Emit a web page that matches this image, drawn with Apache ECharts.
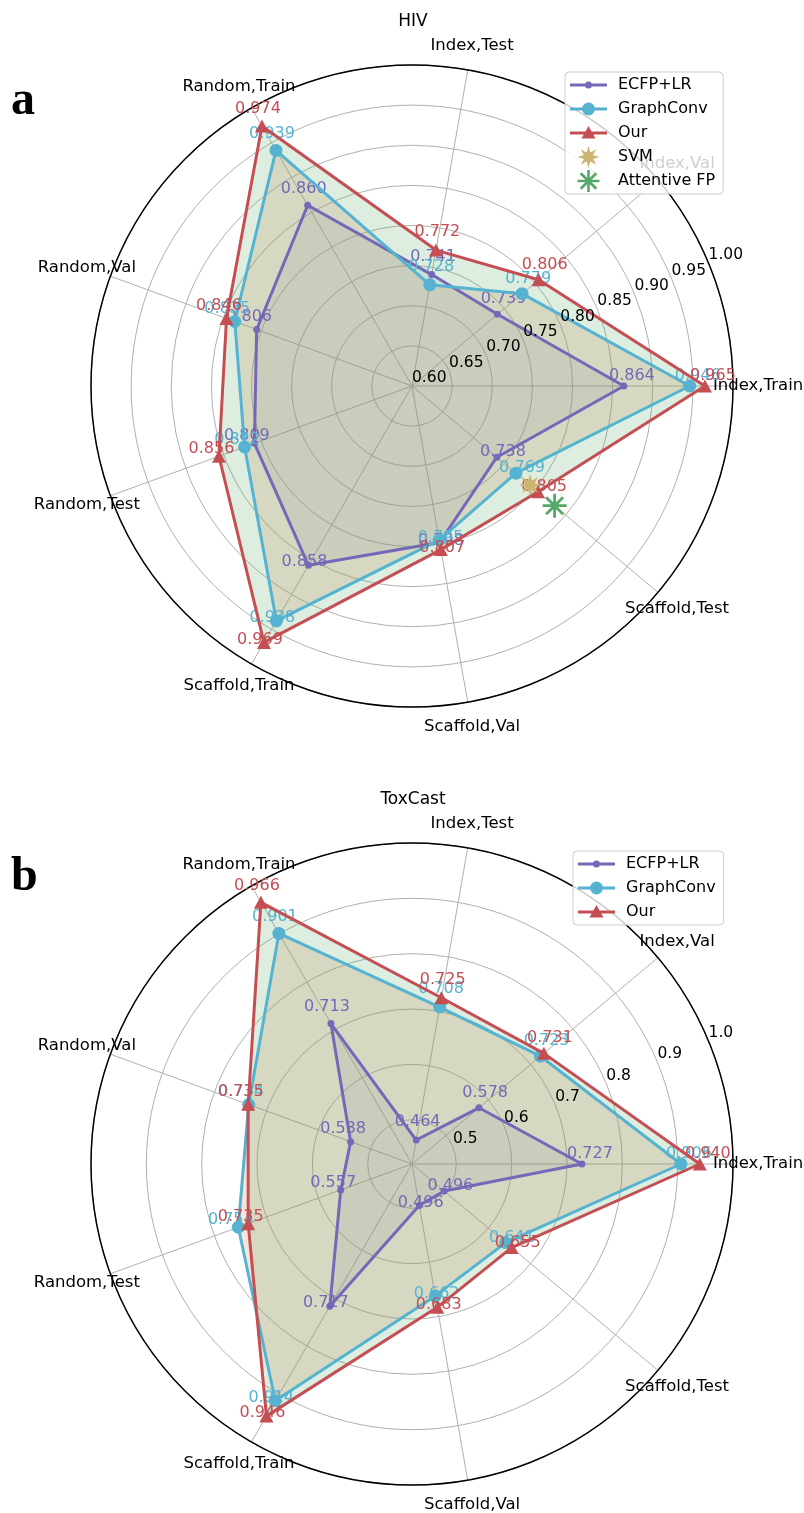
<!DOCTYPE html>
<html>
<head>
<meta charset="utf-8">
<script src="https://cdn.jsdelivr.net/npm/echarts@6/dist/echarts.min.js"></script>
<style>
  html, body { margin: 0; padding: 0; background: #ffffff; }
  #chart { width: 804px; height: 1513px; }
</style>
</head>
<body>
<div id="chart"></div>
<script>
// Radar axes (counter-clockwise from 3 o'clock)
const categories = ['Index,Train', 'Index,Val', 'Index,Test', 'Random,Train', 'Random,Val',
  'Random,Test', 'Scaffold,Train', 'Scaffold,Val', 'Scaffold,Test'];

// HIV scores
const hivEcfp      = [0.864, 0.739, 0.741, 0.860, 0.806, 0.809, 0.858, 0.798, 0.738];
const hivGraphConv = [0.946, 0.779, 0.728, 0.939, 0.835, 0.822, 0.938, 0.795, 0.769];
const hivOur       = [0.965, 0.806, 0.772, 0.974, 0.846, 0.856, 0.969, 0.807, 0.805];
const hivSvmScaffoldTest = 0.792;
const hivAttentiveScaffoldTest = 0.832;
const hivTicks = [0.60, 0.65, 0.70, 0.75, 0.80, 0.85, 0.90, 0.95, 1.00];
const hivRange = [0.60, 1.00];

// ToxCast scores
const toxEcfp      = [0.727, 0.578, 0.464, 0.713, 0.538, 0.557, 0.717, 0.496, 0.496];
const toxGraphConv = [0.906, 0.723, 0.708, 0.901, 0.734, 0.754, 0.914, 0.662, 0.641];
const toxOur       = [0.940, 0.731, 0.725, 0.966, 0.735, 0.735, 0.946, 0.683, 0.655];
const toxTicks = [0.5, 0.6, 0.7, 0.8, 0.9, 1.0];
const toxRange = [0.42, 1.00];

const FONT = '"DejaVu Sans", sans-serif';
const STEP = 360 / categories.length;
const LINE_COLORS = { ecfp: '#7468b8', gc: '#55b3d1', our: '#c44e52', svm: '#cdb46f', afp: '#55a868' };
const FILL_COLORS = { ecfp: '#4c72b0', gc: '#dd8452', our: '#55a868' };
const FILL_ALPHA = { ecfp: 0.12, gc: 0.22, our: 0.2 };
const LABEL_PUSH = 8;          // px, value labels pushed outward along the spoke
const LABEL_LIFT = 2;          // px, extra lift above the marker
const CAT_LABEL_RATIO = 1.078; // category labels sit just outside the rim

// ---- marker shapes (drawn in a 22x22 box) ----
function starPath(points, rOut, rIn) {
  let d = '';
  for (let i = 0; i < points * 2; i++) {
    const r = i % 2 === 0 ? rOut : rIn;
    const a = Math.PI / 2 + i * Math.PI / points;
    d += (i === 0 ? 'M' : 'L') + (11 + r * Math.cos(a)).toFixed(2) + ',' + (11 - r * Math.sin(a)).toFixed(2);
  }
  return d + 'Z';
}
function asteriskPath(arms, len, w) {
  let d = '';
  for (let k = 0; k < arms; k++) {
    const a = k * Math.PI / arms;
    const c = Math.cos(a), s = Math.sin(a);
    const pts = [[-len, -w], [len, -w], [len, w], [-len, w]].map(p =>
      (11 + p[0] * c - p[1] * s).toFixed(2) + ',' + (11 + p[0] * s + p[1] * c).toFixed(2));
    d += 'M' + pts.join('L') + 'Z';
  }
  return d;
}
const STAR8_D = starPath(8, 11, 5);
const ASTER_D = asteriskPath(4, 11, 1.3);

// Legend icons live in a 37x24 box; tiny corner specks pin the box size
const BOX = 'M0,0h0.01v0.01h-0.01zM36.99,23.99h0.01v0.01h-0.01z';
function lineCircleIcon(r) {
  return 'path://' + BOX + 'M0,10.5h37v3h-37z' +
    'M' + (18.5 - r) + ',12a' + r + ',' + r + ' 0 1,1 ' + (2 * r) + ',0' +
    'a' + r + ',' + r + ' 0 1,1 ' + (-2 * r) + ',0z';
}
const ICON_TRI = 'path://' + BOX + 'M0,10.5h37v3h-37zM18.5,5L25.5,17.5L11.5,17.5Z';
function shiftPath(d, dx, dy) {
  return d.replace(/(-?\d+\.?\d*),(-?\d+\.?\d*)/g, (m, x, y) =>
    (parseFloat(x) + dx).toFixed(2) + ',' + (parseFloat(y) + dy).toFixed(2));
}
const ICON_STAR = 'path://' + BOX + shiftPath(STAR8_D, 7.5, 1);
const ICON_ASTER = 'path://' + BOX + shiftPath(ASTER_D, 7.5, 1);

// ---- builders ----
function labelledPoints(values) {
  const items = values.map((v, i) => {
    const a = i * STEP * Math.PI / 180;
    return { value: [v, i * STEP], label: { offset: [LABEL_PUSH * Math.cos(a), -LABEL_PUSH * Math.sin(a) - LABEL_LIFT] } };
  });
  items.push({ value: [values[0], 360], symbol: 'none', label: { show: false } });
  return items;
}
function closedPoints(values) {
  const pts = values.map((v, i) => [v, i * STEP]);
  pts.push([values[0], 360]);
  return pts;
}
function areaSeries(k, values, key) {
  return {
    type: 'line', coordinateSystem: 'polar', polarIndex: k, data: closedPoints(values),
    symbol: 'none', lineStyle: { width: 0 },
    areaStyle: { color: FILL_COLORS[key], opacity: FILL_ALPHA[key] },
    silent: true, z: 1
  };
}
function lineSeries(k, name, values, color, symbol, size, z) {
  return {
    type: 'line', name: name, coordinateSystem: 'polar', polarIndex: k,
    data: labelledPoints(values), symbol: symbol, symbolSize: size,
    lineStyle: { color: color, width: 3 }, itemStyle: { color: color, borderWidth: 0 },
    label: {
      show: true, position: 'inside', align: 'center', verticalAlign: 'bottom',
      color: color, fontSize: 16, fontFamily: FONT,
      formatter: p => p.value[0].toFixed(3)
    },
    z: z
  };
}
function frameSeries(k, range, ticks, decimals) {
  const labelR = range[0] + (range[1] - range[0]) * CAT_LABEL_RATIO;
  return [
    {
      type: 'scatter', coordinateSystem: 'polar', polarIndex: k, clip: false, silent: true,
      symbolSize: 0, itemStyle: { opacity: 1 },
      data: categories.map((c, i) => [labelR, i * STEP]),
      label: { show: true, position: 'inside', align: 'center', verticalAlign: 'middle', opacity: 1,
        color: '#000000', fontSize: 16.5, fontFamily: FONT, formatter: p => categories[p.dataIndex] },
      z: 2
    },
    {
      type: 'scatter', coordinateSystem: 'polar', polarIndex: k, clip: false, silent: true,
      symbolSize: 0, itemStyle: { opacity: 1 },
      data: ticks.map(v => [v, 22.5]),
      label: { show: true, position: 'inside', align: 'left', verticalAlign: 'bottom', opacity: 1,
        color: '#000000', fontSize: 15.5, fontFamily: FONT, formatter: p => p.value[0].toFixed(decimals) },
      z: 6
    }
  ];
}
function axes(k, range, ticks) {
  return {
    angle: {
      polarIndex: k, type: 'value', min: 0, max: 360, interval: STEP,
      startAngle: 0, clockwise: false,
      axisLine: { show: true, lineStyle: { color: '#000', width: 1.5 } },
      axisTick: { show: false }, axisLabel: { show: false },
      splitLine: { show: true, lineStyle: { color: '#b0b0b0', width: 1 } }
    },
    radius: {
      polarIndex: k, type: 'value', min: range[0], max: range[1],
      axisLine: { show: false },
      axisTick: { show: false, customValues: ticks },
      axisLabel: { show: false, customValues: ticks },
      splitLine: { show: true, lineStyle: { color: '#b0b0b0', width: 1 } }
    }
  };
}

const a0 = axes(0, hivRange, hivTicks);
const a1 = axes(1, toxRange, toxTicks);

const series = [
  // HIV
  areaSeries(0, hivEcfp, 'ecfp'),
  areaSeries(0, hivGraphConv, 'gc'),
  areaSeries(0, hivOur, 'our'),
  ...frameSeries(0, hivRange, hivTicks, 2),
  lineSeries(0, 'ECFP+LR', hivEcfp, LINE_COLORS.ecfp, 'circle', 7, 3),
  lineSeries(0, 'GraphConv', hivGraphConv, LINE_COLORS.gc, 'circle', 13, 4),
  lineSeries(0, 'Our', hivOur, LINE_COLORS.our, 'triangle', [14, 13], 5),
  {
    type: 'scatter', name: 'SVM', coordinateSystem: 'polar', polarIndex: 0,
    data: [[hivSvmScaffoldTest, 8 * STEP]], symbol: 'path://' + STAR8_D, symbolSize: 22,
    itemStyle: { color: LINE_COLORS.svm, opacity: 1 }, z: 6
  },
  {
    type: 'scatter', name: 'Attentive FP', coordinateSystem: 'polar', polarIndex: 0,
    data: [[hivAttentiveScaffoldTest, 8 * STEP]], symbol: 'path://' + ASTER_D, symbolSize: 24,
    itemStyle: { color: LINE_COLORS.afp, opacity: 1 }, z: 6
  },
  // ToxCast
  areaSeries(1, toxEcfp, 'ecfp'),
  areaSeries(1, toxGraphConv, 'gc'),
  areaSeries(1, toxOur, 'our'),
  ...frameSeries(1, toxRange, toxTicks, 1),
  lineSeries(1, 'ECFP+LR', toxEcfp, LINE_COLORS.ecfp, 'circle', 7, 3),
  lineSeries(1, 'GraphConv', toxGraphConv, LINE_COLORS.gc, 'circle', 13, 4),
  lineSeries(1, 'Our', toxOur, LINE_COLORS.our, 'triangle', [14, 13], 5)
];

const legendBase = {
  orient: 'vertical', itemWidth: 37, itemHeight: 24, itemGap: 0,
  backgroundColor: 'rgba(255,255,255,0.8)', borderColor: '#cccccc', borderWidth: 1, borderRadius: 4,
  selectedMode: false, padding: [1, 8, 1, 5],
  textStyle: { fontSize: 16, fontFamily: FONT, color: '#000', padding: [0, 0, 0, 6] }
};
const lineLegendItems = [
  { name: 'ECFP+LR', icon: lineCircleIcon(3.5) },
  { name: 'GraphConv', icon: lineCircleIcon(6.5) },
  { name: 'Our', icon: ICON_TRI }
];

const option = {
  animation: false,
  backgroundColor: '#ffffff',
  polar: [
    { center: [412, 386], radius: 321 },
    { center: [412, 1164], radius: 321 }
  ],
  angleAxis: [a0.angle, a1.angle],
  radiusAxis: [a0.radius, a1.radius],
  legend: [
    Object.assign({}, legendBase, {
      left: 565, top: 72,
      data: lineLegendItems.concat([{ name: 'SVM', icon: ICON_STAR }, { name: 'Attentive FP', icon: ICON_ASTER }])
    }),
    Object.assign({}, legendBase, {
      left: 573, top: 851,
      data: lineLegendItems
    })
  ],
  graphic: [
    { type: 'text', x: 413, y: 22, style: { text: 'HIV', font: '17px "DejaVu Sans"', fill: '#000', align: 'center', verticalAlign: 'middle' } },
    { type: 'text', x: 413, y: 800, style: { text: 'ToxCast', font: '17px "DejaVu Sans"', fill: '#000', align: 'center', verticalAlign: 'middle' } },
    { type: 'text', x: 11, y: 102, style: { text: 'a', font: 'bold 48px "Liberation Serif"', fill: '#000', align: 'left', verticalAlign: 'middle' } },
    { type: 'text', x: 11, y: 878, style: { text: 'b', font: 'bold 48px "Liberation Serif"', fill: '#000', align: 'left', verticalAlign: 'middle' } }
  ],
  series: series
};

const chart = echarts.init(document.getElementById('chart'), null, { renderer: 'canvas' });
chart.setOption(option);
</script>
</body>
</html>
